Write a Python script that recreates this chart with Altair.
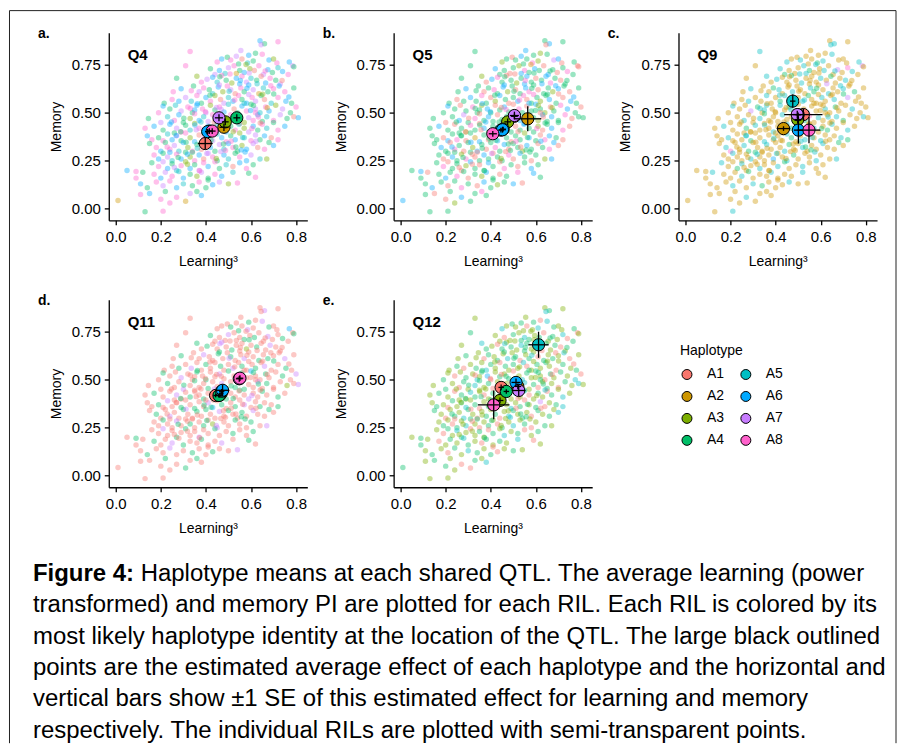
import altair as alt
import pandas as pd

# ---------------- data ----------------
# RIL points (same RILs in every panel): learning^3 and memory
learning = [
    0.64, 0.66, 0.72, 0.645,
    0.33, 0.59, 0.62, 0.555, 0.65,
    0.47, 0.495, 0.51, 0.535, 0.56, 0.585, 0.61, 0.68, 0.70, 0.715, 0.77, 0.785, 0.545, 0.45,
    0.31, 0.42, 0.46, 0.485, 0.50, 0.525, 0.55, 0.57, 0.595, 0.615, 0.635, 0.655, 0.675, 0.695, 0.72, 0.74, 0.765, 0.79, 0.44, 0.535,
    0.27, 0.38, 0.405, 0.43, 0.45, 0.47, 0.49, 0.515, 0.535, 0.56, 0.58, 0.60, 0.625, 0.645, 0.665, 0.685, 0.71, 0.73, 0.36, 0.55,
    0.255, 0.29, 0.345, 0.37, 0.39, 0.415, 0.43, 0.455, 0.475, 0.495, 0.51, 0.53, 0.555, 0.57, 0.59, 0.61, 0.635, 0.655, 0.675, 0.70, 0.725, 0.75, 0.79, 0.46,
    0.215, 0.25, 0.28, 0.31, 0.335, 0.36, 0.38, 0.40, 0.42, 0.44, 0.465, 0.48, 0.50, 0.52, 0.545, 0.56, 0.58, 0.605, 0.62, 0.645, 0.66, 0.69, 0.72, 0.755, 0.78, 0.59,
    0.19, 0.21, 0.24, 0.265, 0.29, 0.32, 0.34, 0.36, 0.385, 0.40, 0.42, 0.44, 0.46, 0.48, 0.50, 0.525, 0.54, 0.56, 0.58, 0.60, 0.62, 0.64, 0.665, 0.68, 0.71, 0.74, 0.775, 0.80, 0.35, 0.57,
    0.145, 0.20, 0.23, 0.26, 0.28, 0.30, 0.33, 0.35, 0.37, 0.39, 0.41, 0.43, 0.45, 0.47, 0.49, 0.51, 0.53, 0.55, 0.57, 0.59, 0.61, 0.63, 0.65, 0.67, 0.70, 0.73, 0.76, 0.79, 0.81, 0.62,
    0.13, 0.17, 0.21, 0.24, 0.27, 0.29, 0.31, 0.33, 0.35, 0.37, 0.39, 0.41, 0.43, 0.45, 0.47, 0.49, 0.51, 0.53, 0.55, 0.57, 0.59, 0.61, 0.63, 0.65, 0.67, 0.70, 0.72, 0.75,
    0.14, 0.16, 0.19, 0.21, 0.23, 0.25, 0.27, 0.29, 0.31, 0.33, 0.35, 0.37, 0.39, 0.41, 0.43, 0.45, 0.47, 0.49, 0.51, 0.53, 0.55, 0.57, 0.60, 0.62, 0.64, 0.66, 0.69, 0.72, 0.26, 0.40,
    0.15, 0.18, 0.20, 0.22, 0.24, 0.26, 0.28, 0.30, 0.32, 0.34, 0.36, 0.38, 0.40, 0.42, 0.44, 0.46, 0.48, 0.50, 0.52, 0.54, 0.56, 0.58, 0.61, 0.63, 0.66, 0.68, 0.70,
    0.17, 0.19, 0.21, 0.23, 0.25, 0.27, 0.29, 0.31, 0.33, 0.35, 0.37, 0.39, 0.41, 0.43, 0.45, 0.48, 0.50, 0.53, 0.55, 0.58, 0.60, 0.64, 0.67, 0.24, 0.34,
    0.05, 0.09, 0.16, 0.19, 0.21, 0.23, 0.25, 0.27, 0.29, 0.31, 0.33, 0.35, 0.37, 0.39, 0.41, 0.44, 0.46, 0.49, 0.52, 0.55, 0.58, 0.61, 0.26,
    0.09, 0.12, 0.17, 0.20, 0.22, 0.25, 0.28, 0.30, 0.33, 0.36, 0.38, 0.41, 0.44, 0.47, 0.52, 0.59, 0.62,
    0.11, 0.14, 0.18, 0.21, 0.24, 0.27, 0.30, 0.34, 0.37, 0.40, 0.43, 0.46, 0.50, 0.54, 0.41,
    0.11, 0.15, 0.22, 0.27, 0.33, 0.36, 0.38,
    0.01, 0.13, 0.20, 0.21, 0.31, 0.24,
    # denser core
    0.335, 0.362, 0.418, 0.447, 0.503, 0.528, 0.582, 0.611, 0.652, 0.688,
    0.302, 0.351, 0.398, 0.437, 0.468, 0.512, 0.547, 0.598, 0.633, 0.672,
    0.268, 0.312, 0.357, 0.392, 0.433, 0.478, 0.521, 0.563, 0.604, 0.641,
    0.228, 0.277, 0.318, 0.362, 0.404, 0.446, 0.487, 0.533, 0.574, 0.622,
    0.462, 0.507, 0.553, 0.592, 0.627, 0.663, 0.701, 0.738, 0.768, 0.578,
    0.247, 0.288, 0.331, 0.378, 0.423, 0.466, 0.512, 0.557, 0.318, 0.372,
]
memory = [
    0.875, 0.86, 0.87, 0.855,
    0.82, 0.80, 0.81, 0.825, 0.805,
    0.78, 0.79, 0.775, 0.795, 0.78, 0.76, 0.77, 0.775, 0.78, 0.76, 0.765, 0.745, 0.755, 0.765,
    0.745, 0.73, 0.72, 0.705, 0.735, 0.745, 0.72, 0.71, 0.73, 0.72, 0.745, 0.70, 0.725, 0.71, 0.735, 0.715, 0.70, 0.74, 0.70, 0.705,
    0.68, 0.66, 0.675, 0.685, 0.66, 0.695, 0.67, 0.655, 0.68, 0.69, 0.66, 0.68, 0.67, 0.69, 0.655, 0.68, 0.67, 0.65, 0.69, 0.65,
    0.61, 0.625, 0.64, 0.61, 0.63, 0.62, 0.60, 0.635, 0.61, 0.64, 0.62, 0.60, 0.63, 0.61, 0.645, 0.62, 0.60, 0.63, 0.61, 0.625, 0.64, 0.61, 0.63, 0.645,
    0.55, 0.57, 0.56, 0.58, 0.56, 0.59, 0.55, 0.58, 0.56, 0.59, 0.57, 0.55, 0.58, 0.56, 0.59, 0.57, 0.55, 0.58, 0.56, 0.59, 0.57, 0.55, 0.58, 0.56, 0.55, 0.595,
    0.50, 0.535, 0.52, 0.54, 0.51, 0.53, 0.50, 0.54, 0.52, 0.50, 0.54, 0.515, 0.53, 0.505, 0.545, 0.52, 0.50, 0.535, 0.51, 0.545, 0.52, 0.50, 0.53, 0.51, 0.54, 0.52, 0.50, 0.53, 0.515, 0.55,
    0.47, 0.45, 0.48, 0.46, 0.49, 0.45, 0.47, 0.495, 0.46, 0.48, 0.455, 0.49, 0.465, 0.48, 0.455, 0.49, 0.46, 0.485, 0.45, 0.475, 0.46, 0.49, 0.455, 0.48, 0.46, 0.49, 0.47, 0.48, 0.475, 0.50,
    0.42, 0.43, 0.41, 0.44, 0.42, 0.40, 0.435, 0.41, 0.445, 0.42, 0.40, 0.43, 0.41, 0.44, 0.42, 0.40, 0.43, 0.41, 0.445, 0.42, 0.40, 0.43, 0.41, 0.44, 0.42, 0.45, 0.41, 0.43,
    0.38, 0.36, 0.37, 0.355, 0.39, 0.36, 0.38, 0.355, 0.395, 0.37, 0.35, 0.385, 0.36, 0.38, 0.355, 0.39, 0.37, 0.35, 0.38, 0.36, 0.395, 0.37, 0.355, 0.385, 0.36, 0.38, 0.37, 0.36, 0.395, 0.395,
    0.34, 0.32, 0.30, 0.345, 0.31, 0.33, 0.30, 0.345, 0.32, 0.30, 0.335, 0.31, 0.345, 0.32, 0.30, 0.335, 0.31, 0.34, 0.32, 0.30, 0.33, 0.31, 0.34, 0.32, 0.31, 0.345, 0.33,
    0.28, 0.26, 0.29, 0.27, 0.25, 0.285, 0.26, 0.295, 0.27, 0.25, 0.28, 0.26, 0.29, 0.27, 0.25, 0.28, 0.26, 0.29, 0.27, 0.25, 0.28, 0.26, 0.26, 0.295, 0.295,
    0.20, 0.195, 0.24, 0.22, 0.245, 0.21, 0.235, 0.20, 0.225, 0.245, 0.21, 0.23, 0.20, 0.24, 0.22, 0.245, 0.21, 0.23, 0.22, 0.24, 0.21, 0.23, 0.215,
    0.16, 0.19, 0.18, 0.16, 0.19, 0.17, 0.195, 0.16, 0.18, 0.17, 0.19, 0.16, 0.18, 0.17, 0.19, 0.185, 0.165,
    0.13, 0.11, 0.14, 0.12, 0.145, 0.11, 0.13, 0.12, 0.14, 0.11, 0.125, 0.14, 0.13, 0.135, 0.15,
    0.075, 0.08, 0.09, 0.06, 0.08, 0.09, 0.07,
    0.043, -0.015, 0.05, -0.012, 0.04, 0.03,
    # denser core
    0.615, 0.548, 0.592, 0.528, 0.612, 0.567, 0.628, 0.538, 0.597, 0.641,
    0.472, 0.437, 0.506, 0.452, 0.518, 0.468, 0.441, 0.512, 0.478, 0.527,
    0.382, 0.347, 0.412, 0.368, 0.395, 0.338, 0.402, 0.372, 0.418, 0.447,
    0.322, 0.268, 0.284, 0.316, 0.288, 0.262, 0.304, 0.322, 0.296, 0.352,
    0.688, 0.702, 0.668, 0.708, 0.652, 0.718, 0.598, 0.668, 0.582, 0.752,
    0.452, 0.402, 0.523, 0.452, 0.357, 0.298, 0.352, 0.307, 0.232, 0.198,
]

# most likely haplotype of every RIL at each QTL (digit n = haplotype An)
hap_q4 = ("6487" "86478" "64871546386748" "84657846318764568472" "48765843687541684736"
          "864784563871846725486847" "48675846831756846874158647" "864578468734865146847586374865"
          "475864386578416846378645874168" "8646784538467586481376485486" "684856748361847568463587461846"
          "486487563841864756843671846" "8647586438617846548675364" "68487645836478684516847"
          "84867856437486548" "648786548467384" "8648746" "248828"
          "8647586438" "4681745682" "6478643581" "8465738467" "4867584163" "6485478638")
hap_q5 = ("4641" "44364" "41464837614143" "46414384641641484146" "41684143464146841436"
          "464148463414684144364146" "41464841364146814434641648" "464148436414641841464314864146"
          "414674814641441864143646481441" "4641438416441864146443146481" "441648414264146841443641864144"
          "464184143641484614436414861" "4146438414641448164143641" "46481441364146418414641"
          "41464841436414864" "464148416434614" "4146484" "641443"
          "4641484346" "1464846413" "4614641484" "6414734146" "4184641462" "4146418414")
hap_q9 = ("2525" "52225" "22522452225725" "25222542252272852245" "22522425222524225252"
          "252245225222542252252422" "22522522452625422522527222" "252274252252422252225242252252"
          "222522542225222548252225422522" "2522425222521542222522452252" "225222542252222542257252225422"
          "258225422252225422522252242" "2252225422262254222522522" "22522452225222542252222"
          "25222542225222522" "222522542225222" "2225222" "222522"
          "2252254225" "2522542252" "5225222542" "2252522452" "2522754225" "2252225422")
hap_q11 = ("1711" "14117" "11411714116141" "14117114141171141411" "11411714113141171141"
           "141171141141171141411714" "11417114114117141141711411" "141171141411714114161141141711"
           "114117141141171141411714113171" "1411711411417114114171141141" "114171141141176141141711411411"
           "141171141141411714114171141" "1141171141141371141141711" "14117114141171141141141"
           "11411714114117141" "141171141141171" "1141141" "111141"
           "1411711411" "4117141141" "1714114171" "1411471141" "7114114111" "1411411411")
hap_q12 = ("3435" "34135" "34341354334135" "43134354341343514334" "34314343543134341354"
           "343143435341343143435134" "34134354314343513434314343" "431343546134341354343143435134"
           "343143543413631435341343143534" "3431435431343143534134314353" "343143453413431435341347134534"
           "431343543134341354343143435" "3431435431343143534134314" "34314354313431435341343"
           "43134354314343513" "343143543413431" "3431435" "434313"
           "3431435431" "4313435341" "3143431435" "4313435431" "5343143413" "3413431434")

qtls = ["Q4", "Q5", "Q9", "Q11", "Q12"]
panel_letters = ["a.", "b.", "c.", "d.", "e."]
hap_codes = {"Q4": hap_q4, "Q5": hap_q5, "Q9": hap_q9, "Q11": hap_q11, "Q12": hap_q12}

haplotypes = ["A1", "A2", "A3", "A4", "A5", "A6", "A7", "A8"]
hap_colors = ["#F8766D", "#CD9600", "#7CAE00", "#00BE67", "#00BFC4", "#00A9FF", "#C77CFF", "#FF61CC"]

# estimated haplotype effects (A1..A8) and their standard errors
mean_learning = {
    "Q4":  [0.397, 0.480, 0.486, 0.537, 0.415, 0.408, 0.458, 0.428],
    "Q5":  [0.505, 0.564, 0.475, 0.455, 0.445, 0.452, 0.505, 0.409],
    "Q9":  [0.523, 0.435, 0.498, 0.500, 0.476, 0.501, 0.496, 0.548],
    "Q11": [0.443, 0.468, 0.462, 0.458, 0.470, 0.474, 0.548, 0.551],
    "Q12": [0.446, 0.520, 0.441, 0.469, 0.612, 0.512, 0.524, 0.413],
}
mean_memory = {
    "Q4":  [0.340, 0.425, 0.453, 0.474, 0.405, 0.402, 0.474, 0.405],
    "Q5":  [0.482, 0.469, 0.453, 0.415, 0.410, 0.412, 0.486, 0.391],
    "Q9":  [0.491, 0.418, 0.465, 0.490, 0.561, 0.410, 0.491, 0.410],
    "Q11": [0.418, 0.430, 0.420, 0.418, 0.440, 0.445, 0.505, 0.508],
    "Q12": [0.460, 0.465, 0.392, 0.439, 0.682, 0.486, 0.444, 0.369],
}
se_learning = {
    "Q4":  [0.033, 0.020, 0.015, 0.015, 0.012, 0.012, 0.018, 0.015],
    "Q5":  [0.015, 0.060, 0.015, 0.012, 0.012, 0.015, 0.020, 0.018],
    "Q9":  [0.085, 0.030, 0.015, 0.012, 0.012, 0.020, 0.020, 0.050],
    "Q11": [0.010, 0.010, 0.010, 0.012, 0.012, 0.030, 0.015, 0.015],
    "Q12": [0.012, 0.015, 0.015, 0.012, 0.045, 0.020, 0.030, 0.070],
}
se_memory = {
    "Q4":  [0.030, 0.020, 0.018, 0.018, 0.015, 0.014, 0.018, 0.015],
    "Q5":  [0.015, 0.065, 0.017, 0.012, 0.012, 0.015, 0.020, 0.015],
    "Q9":  [0.030, 0.012, 0.020, 0.012, 0.035, 0.070, 0.020, 0.068],
    "Q11": [0.010, 0.010, 0.010, 0.012, 0.012, 0.030, 0.015, 0.015],
    "Q12": [0.015, 0.015, 0.015, 0.012, 0.068, 0.020, 0.030, 0.075],
}

x_ticks = [0.0, 0.2, 0.4, 0.6, 0.8]
y_ticks = [0.0, 0.25, 0.5, 0.75]

caption_bold = "Figure 4:"
caption_first = "Haplotype means at each shared QTL. The average learning (power"
caption_rest = [
    "transformed) and memory PI are plotted for each RIL. Each RIL is colored by its",
    "most likely haplotype identity at the location of the QTL. The large black outlined",
    "points are the estimated average effect of each haplotype and the horizontal and",
    "vertical bars show \u00b11 SE of this estimated effect for learning and memory",
    "respectively. The individual RILs are plotted with semi-transparent points.",
]

# ---------------- chart ----------------
FONT = "Liberation Sans"
W, H = 199, 188
color_scale = alt.Scale(domain=haplotypes, range=hap_colors)
xs = alt.Scale(domain=[-0.031, 0.85], nice=False, zero=False)
ys = alt.Scale(domain=[-0.06, 0.917], nice=False, zero=False)
x_axis = alt.Axis(values=x_ticks, format=".1f", title="Learning\u00b3")
y_axis = alt.Axis(values=y_ticks, format=".2f", title="Memory")
one = pd.DataFrame({"k": [0]})


def panel(i):
    q = qtls[i]
    codes = hap_codes[q]
    n = min(len(learning), len(memory), len(codes))
    ril = pd.DataFrame({"learning": learning[:n], "memory": memory[:n],
                        "haplotype": ["A" + c for c in codes[:n]]})
    m = pd.DataFrame({"haplotype": haplotypes, "learning": mean_learning[q],
                      "memory": mean_memory[q], "sl": se_learning[q], "sm": se_memory[q]})
    m["l_lo"] = m["learning"] - m["sl"]
    m["l_hi"] = m["learning"] + m["sl"]
    m["m_lo"] = m["memory"] - m["sm"]
    m["m_hi"] = m["memory"] + m["sm"]

    X = alt.X("learning:Q", scale=xs, axis=x_axis)
    Y = alt.Y("memory:Q", scale=ys, axis=y_axis)
    col = alt.Color("haplotype:N", scale=color_scale, legend=None)

    pts = alt.Chart(ril).mark_circle(size=30, opacity=0.4).encode(x=X, y=Y, color=col)
    mp = alt.Chart(m).mark_point(shape="circle", filled=True, size=150, stroke="black",
                                 strokeWidth=1, opacity=1).encode(x=X, y=Y, color=col)
    hb = alt.Chart(m).mark_rule(color="black", strokeWidth=1.3).encode(
        x=alt.X("l_lo:Q", scale=xs, axis=x_axis), x2="l_hi:Q", y=Y)
    vb = alt.Chart(m).mark_rule(color="black", strokeWidth=1.3).encode(
        x=X, y=alt.Y("m_lo:Q", scale=ys, axis=y_axis), y2="m_hi:Q")
    qlab = alt.Chart(pd.DataFrame({"learning": [0.053], "memory": [0.80], "t": [q]})).mark_text(
        align="left", baseline="middle", font=FONT, fontSize=15, fontWeight="bold", color="black"
    ).encode(x=X, y=Y, text="t:N")
    letter = alt.Chart(one).mark_text(
        align="left", baseline="middle", font=FONT, fontSize=14, fontWeight="bold", color="black"
    ).encode(x=alt.value(-71), y=alt.value(1.5), text=alt.value(panel_letters[i]))
    layers = [pts, mp, hb, vb, qlab, letter]

    if i == 0:  # figure frame (left, top, right)
        layers += [
            alt.Chart(one).mark_rule(color="#222222", strokeWidth=1).encode(
                x=alt.value(-99.5), x2=alt.value(789), y=alt.value(-22.2)),
            alt.Chart(one).mark_rule(color="#222222", strokeWidth=1).encode(
                x=alt.value(-99.5), y=alt.value(-22.2), y2=alt.value(712)),
            alt.Chart(one).mark_rule(color="#222222", strokeWidth=1).encode(
                x=alt.value(789), y=alt.value(-22.2), y2=alt.value(712)),
        ]
    if i == 3:  # caption
        layers += [
            alt.Chart(one).mark_text(align="left", baseline="alphabetic", font=FONT, fontSize=24,
                                     fontWeight="bold", color="black").encode(
                x=alt.value(-76), y=alt.value(282), text=alt.value(caption_bold)),
            alt.Chart(one).mark_text(align="left", baseline="alphabetic", font=FONT, fontSize=24,
                                     color="black").encode(
                x=alt.value(32), y=alt.value(282), text=alt.value(caption_first)),
            alt.Chart(one).mark_text(align="left", baseline="alphabetic", font=FONT, fontSize=24,
                                     lineHeight=31.4, color="black").encode(
                x=alt.value(-76), y=alt.value(313.4), text=alt.value(caption_rest)),
        ]
    return alt.layer(*layers).properties(width=W, height=H)


legend_cell = alt.Chart(pd.DataFrame({"haplotype": haplotypes})).mark_point(
    filled=True, opacity=0, size=0
).encode(
    color=alt.Color("haplotype:N", scale=color_scale, legend=alt.Legend(
        orient="none", legendX=1.5, legendY=44, title="Haplotype", columns=2,
        symbolType="circle", symbolSize=100, symbolStrokeColor="black", symbolStrokeWidth=1,
        symbolOpacity=1, labelFont=FONT, labelFontSize=14, labelColor="black",
        titleFont=FONT, titleFontSize=14, titleFontWeight="normal", titleColor="black",
        rowPadding=8, columnPadding=14, labelOffset=13, titlePadding=10, padding=0))
).properties(width=W, height=H)

chart = alt.concat(
    *[panel(i) for i in range(5)], legend_cell,
    columns=3, spacing={"row": 79.5, "column": 86.5}, bounds="flush"
).resolve_scale(
    x="independent", y="independent", color="independent"
).properties(
    padding=1, background="white"
).configure_view(
    stroke=None
).configure_axis(
    grid=False, labelFont=FONT, labelFontSize=15, labelColor="black",
    titleFont=FONT, titleFontSize=14, titleFontWeight="normal", titleColor="black",
    domainColor="black", domainWidth=1.3, tickColor="black", tickWidth=1.3, tickSize=4.5
).configure_axisX(
    labelPadding=5, titlePadding=10
).configure_axisY(
    labelPadding=4, titlePadding=8
)

chart.save("out.html", embed_options={"renderer": "svg", "actions": False})
